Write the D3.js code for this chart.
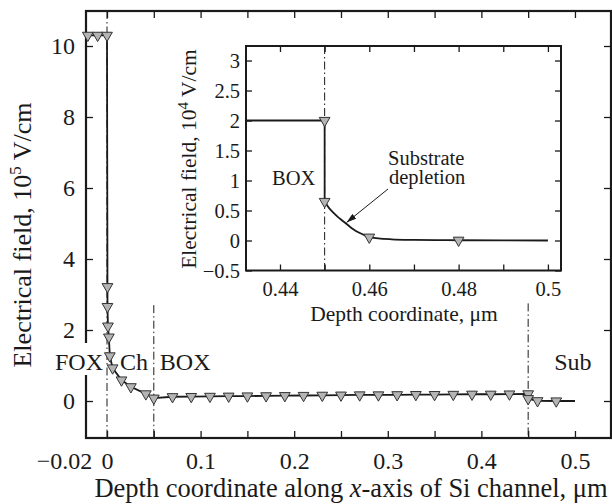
<!DOCTYPE html>
<html><head><meta charset="utf-8">
<script src="https://cdn.jsdelivr.net/npm/d3@7"></script>
<style>
body{margin:0;background:#fff}
svg{display:block}
text{font-family:"Liberation Serif","Times New Roman",Times,serif;fill:#1a1a1a}
</style>
</head><body>
<svg id="c" width="612" height="504"></svg>
<script>
// ---- main chart data (E in 10^5 V/cm, depth in um) ----
const mainX = [-0.0205, -0.01, 0, 0.0005, 0.0005, 0.001, 0.002, 0.003, 0.006, 0.0155, 0.0255, 0.0415,
  0.05, 0.07, 0.09, 0.11, 0.13, 0.15, 0.17, 0.19, 0.21, 0.23, 0.25, 0.27, 0.29, 0.31, 0.33, 0.35,
  0.37, 0.39, 0.41, 0.43, 0.45, 0.45, 0.46, 0.48, 0.5];
const mainE = [10.3, 10.3, 10.3, 3.22, 2.66, 2.11, 1.80, 1.27, 0.93, 0.59, 0.40, 0.20,
  0.08, 0.12, 0.125, 0.13, 0.135, 0.14, 0.145, 0.15, 0.155, 0.16, 0.165, 0.17, 0.17, 0.175, 0.18, 0.18,
  0.185, 0.19, 0.19, 0.195, 0.2, 0.065, 0.006, 0.0, 0.0];
const mainXTicks = [0, 0.05, 0.1, 0.15, 0.2, 0.25, 0.3, 0.35, 0.4, 0.45, 0.5];
const mainXLabels = {"0":"0","0.1":"0.1","0.2":"0.2","0.3":"0.3","0.4":"0.4","0.5":"0.5"};
const mainYTicks = [0, 2, 4, 6, 8, 10];
const regionLines = [0, 0.05, 0.45];
const regionLabels = ["FOX", "Ch", "BOX", "Sub"];

// ---- inset data (E in 10^4 V/cm) ----
const insetX = [0.4324, 0.45, 0.45, 0.451, 0.452, 0.453, 0.454, 0.455, 0.456, 0.457, 0.458, 0.459, 0.46,
  0.462, 0.465, 0.47, 0.475, 0.48, 0.49, 0.5];
const insetE = [2, 2, 0.65, 0.54, 0.46, 0.39, 0.33, 0.27, 0.21, 0.16, 0.12, 0.085, 0.055,
  0.035, 0.02, 0.01, 0.006, 0.004, 0.001, 0];
const insetMarkX = [0.45, 0.45, 0.46, 0.48];
const insetMarkE = [2, 0.65, 0.055, 0.004];
const insetXTicks = [0.44, 0.45, 0.46, 0.47, 0.48, 0.49, 0.5];
const insetXLabels = {"0.44":"0.44","0.46":"0.46","0.48":"0.48","0.5":"0.5"};
const insetYTicks = [-0.5, 0, 0.5, 1, 1.5, 2, 2.5, 3];

const svg = d3.select("#c");
const ink = "#1a1a1a";
const fmtMinus = v => String(v).replace("-", "\u2212");
const dashDot = "8,3,1.5,3";
const serif = '"Liberation Serif","Times New Roman",Times,serif';

// ---------- MAIN ----------
const M = {l: 86, r: 611, t: 11, b: 438};
const x = d3.scaleLinear().domain([-0.02244, 0.5385]).range([M.l, M.r]);
const y = d3.scaleLinear().domain([-1.042, 10.986]).range([M.b, M.t]);

function styleAxis(g, fs){
  g.attr("font-family", serif);
  g.select(".domain").remove();
  g.selectAll(".tick line").attr("stroke", ink).attr("stroke-width", 1.3);
  g.selectAll(".tick text").attr("fill", ink).style("font-size", fs + "px").style("font-family", serif);
}

svg.append("g").attr("transform", `translate(0,${M.b})`)
  .call(d3.axisBottom(x).tickValues(mainXTicks).tickSize(-7).tickPadding(14)
    .tickFormat(d => mainXLabels[String(d)] || ""))
  .call(g => styleAxis(g, 24));
svg.append("g").attr("transform", `translate(0,${M.t})`)
  .call(d3.axisTop(x).tickValues(mainXTicks).tickSize(-7).tickFormat(""))
  .call(g => styleAxis(g, 24));
svg.append("g").attr("transform", `translate(${M.l},0)`)
  .call(d3.axisLeft(y).tickValues(mainYTicks).tickSize(-7).tickPadding(11))
  .call(g => styleAxis(g, 24));
svg.append("g").attr("transform", `translate(${M.r},0)`)
  .call(d3.axisRight(y).tickValues(mainYTicks).tickSize(-7).tickFormat(""))
  .call(g => styleAxis(g, 24));

// -0.02 label (shifted left of the 0 label)
svg.append("text").attr("x", x(-0.02) + 4).attr("y", M.b + 31)
  .attr("text-anchor", "end").style("font-size", "24px").text(fmtMinus(-0.02));

// frame
svg.append("rect").attr("x", M.l).attr("y", M.t).attr("width", M.r - M.l).attr("height", M.b - M.t)
  .attr("fill", "none").attr("stroke", ink).attr("stroke-width", 2.2);

// region dash-dot lines
const regionTop = [10.986, 2.7, 2.75];
regionLines.forEach((v, i) => {
  svg.append("line").attr("x1", x(v)).attr("x2", x(v)).attr("y1", y(regionTop[i])).attr("y2", M.b)
    .attr("stroke", ink).attr("stroke-width", 1).attr("stroke-dasharray", dashDot);
});

// white box behind FOX covering axis
svg.append("rect").attr("x", 54).attr("y", 343).attr("width", 50).attr("height", 32).attr("fill", "#fff");
const labY = 370;
svg.append("text").attr("x", x(0) - 4).attr("y", labY).attr("text-anchor", "end").style("font-size", "24px").text(regionLabels[0]);
svg.append("text").attr("x", x(0) + 13).attr("y", labY).style("font-size", "24px").text(regionLabels[1]);
svg.append("text").attr("x", x(0.05) + 6).attr("y", labY).style("font-size", "24px").text(regionLabels[2]);
svg.append("text").attr("x", x(0.48) - 2).attr("y", labY).style("font-size", "24px").text(regionLabels[3]);

// main line
const mainPts = mainX.map((v, i) => [v, mainE[i]]);
svg.append("path").datum(mainPts)
  .attr("d", d3.line().x(d => x(d[0])).y(d => y(d[1])))
  .attr("fill", "none").attr("stroke", ink).attr("stroke-width", 1.8);

const tri = d3.symbol(d3.symbolTriangle, 50);
svg.append("g").selectAll("path").data(mainPts.slice(0, -1)).join("path")
  .attr("d", tri)
  .attr("transform", d => `translate(${x(d[0])},${y(d[1])}) rotate(180)`)
  .attr("fill", "#b4b4b4").attr("stroke", "#333").attr("stroke-width", 1);

// axis titles
svg.append("text").attr("x", 351).attr("y", 497).attr("text-anchor", "middle").style("font-size", "26.5px")
  .html('Depth coordinate along <tspan font-style="italic">x</tspan>-axis of Si channel, \u03bcm');
svg.append("text").attr("transform", "translate(31,235) rotate(-90)").attr("text-anchor", "middle").style("font-size", "26px")
  .html('Electrical field, 10<tspan dy="-10" font-size="17px">5</tspan><tspan dy="10"> V/cm</tspan>');

// ---------- INSET ----------
const I = {l: 246, r: 561, t: 46, b: 270.5};
const xi = d3.scaleLinear().domain([0.43239, 0.50293]).range([I.l, I.r]);
const yi = d3.scaleLinear().domain([-0.5, 3.242]).range([I.b, I.t]);

svg.append("rect").attr("x", I.l).attr("y", I.t).attr("width", I.r - I.l).attr("height", I.b - I.t).attr("fill", "#fff");

svg.append("g").attr("transform", `translate(0,${I.b})`)
  .call(d3.axisBottom(xi).tickValues(insetXTicks).tickSize(-6).tickPadding(11)
    .tickFormat(d => insetXLabels[String(d)] || ""))
  .call(g => styleAxis(g, 20.5));
svg.append("g").attr("transform", `translate(0,${I.t})`)
  .call(d3.axisTop(xi).tickValues(insetXTicks).tickSize(-6).tickFormat(""))
  .call(g => styleAxis(g, 20.5));
svg.append("g").attr("transform", `translate(${I.l},0)`)
  .call(d3.axisLeft(yi).tickValues(insetYTicks).tickSize(-6).tickPadding(6).tickFormat(fmtMinus))
  .call(g => styleAxis(g, 20.5));
svg.append("g").attr("transform", `translate(${I.r},0)`)
  .call(d3.axisRight(yi).tickValues(insetYTicks).tickSize(-6).tickFormat(""))
  .call(g => styleAxis(g, 20.5));

svg.append("rect").attr("x", I.l).attr("y", I.t).attr("width", I.r - I.l).attr("height", I.b - I.t)
  .attr("fill", "none").attr("stroke", ink).attr("stroke-width", 2);

svg.append("line").attr("x1", xi(0.45)).attr("x2", xi(0.45)).attr("y1", I.t).attr("y2", I.b)
  .attr("stroke", ink).attr("stroke-width", 1).attr("stroke-dasharray", dashDot);

const insetPts = insetX.map((v, i) => [v, insetE[i]]);
svg.append("path").datum(insetPts.slice(0, 3))
  .attr("d", d3.line().x(d => xi(d[0])).y(d => yi(d[1])))
  .attr("fill", "none").attr("stroke", ink).attr("stroke-width", 1.8);
svg.append("path").datum(insetPts.slice(2))
  .attr("d", d3.line().curve(d3.curveMonotoneX).x(d => xi(d[0])).y(d => yi(d[1])))
  .attr("fill", "none").attr("stroke", ink).attr("stroke-width", 1.8);

svg.append("g").selectAll("path").data(insetMarkX.map((v, i) => [v, insetMarkE[i]])).join("path")
  .attr("d", tri)
  .attr("transform", d => `translate(${xi(d[0])},${yi(d[1])}) rotate(180)`)
  .attr("fill", "#b4b4b4").attr("stroke", "#333").attr("stroke-width", 1);

svg.append("text").attr("x", 404).attr("y", 321).attr("text-anchor", "middle").style("font-size", "21.5px")
  .text("Depth coordinate, \u03bcm");
svg.append("text").attr("transform", "translate(196,159) rotate(-90)").attr("text-anchor", "middle").style("font-size", "21.5px")
  .html('Electrical field, 10<tspan dy="-8" font-size="15px">4</tspan><tspan dy="8"> V/cm</tspan>');

svg.append("text").attr("x", 272).attr("y", 185).style("font-size", "20.5px").text("BOX");
const ann = svg.append("text").attr("x", 388).attr("y", 165).style("font-size", "20.5px");
ann.append("tspan").attr("x", 388).attr("y", 165).text("Substrate");
ann.append("tspan").attr("x", 389).attr("y", 184).text("depletion");

// arrow
svg.append("defs").append("marker").attr("id", "ah").attr("viewBox", "0 0 10 6")
  .attr("refX", 10).attr("refY", 3).attr("markerWidth", 10).attr("markerHeight", 6)
  .attr("markerUnits", "userSpaceOnUse").attr("orient", "auto")
  .append("path").attr("d", "M0,0 L10,3 L0,6 Z").attr("fill", ink);
svg.append("line").attr("x1", 388).attr("y1", 189).attr("x2", xi(0.4549)).attr("y2", yi(0.3))
  .attr("stroke", ink).attr("stroke-width", 1).attr("marker-end", "url(#ah)");
</script>
</body></html>
